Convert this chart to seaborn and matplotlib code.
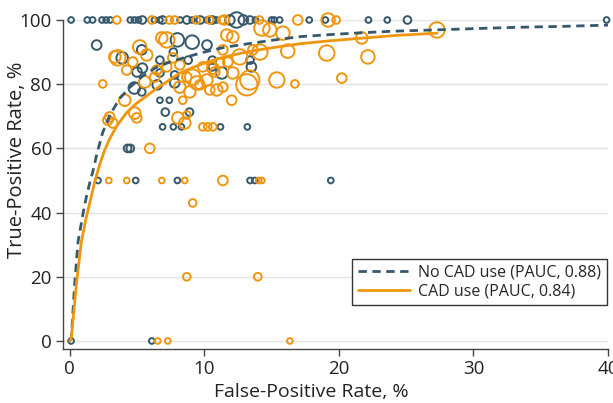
import numpy as np
import pandas as pd
import matplotlib
matplotlib.use("Agg")
import matplotlib.pyplot as plt
import seaborn as sns

NAVY = "#35596b"
ORANGE = "#f0960e"

# study points: false-positive rate, true-positive rate, weight (marker area)
nocad_fpr = [0.1, 1.3, 1.7, 2.4, 2.7, 3.0, 4.5, 4.8, 5.1, 5.4, 6.3, 6.7, 6.9, 8.2, 8.7,
             9.1, 9.7, 10.2, 10.6, 10.9, 11.9, 12.4, 12.9, 13.4, 13.8, 15.0, 15.2, 15.6,
             17.8, 19.0, 22.2, 23.6, 25.1, 39.9,
             2.0, 3.9, 5.35, 6.7, 7.7, 8.8, 8.0, 9.1, 10.2, 5.0, 5.4, 6.7, 7.8, 6.5, 7.8,
             4.8, 5.35, 10.6, 10.6, 11.3, 13.4, 13.5, 6.7, 7.4, 7.1, 8.9,
             6.9, 7.7, 8.3, 11.2, 13.2, 4.3, 4.5,
             2.1, 4.9, 8.0, 13.4, 13.75, 19.4, 0.1, 6.1]
nocad_tpr = [100] * 34 + [
    92.2, 88.2, 90.7, 87.5, 90.0, 87.5, 93.8, 93.1, 92.2, 83.8, 85.0, 83.5, 82.9, 79.8, 80.4,
    78.8, 77.6, 87.5, 85.4, 83.5, 87.5, 85.4, 75.0, 75.0, 71.3, 71.3,
    66.7, 66.7, 66.7, 66.7, 66.7, 60.0, 60.0,
    50, 50, 50, 50, 50, 50, 0, 0]
nocad_w = [9, 9, 9, 9, 9, 9, 9, 9, 9, 16, 9, 9, 16, 9, 16, 9, 16, 9, 16, 9, 25, 64, 25,
           16, 9, 9, 9, 9, 9, 9, 9, 9, 16, 9,
           25, 36, 25, 16, 16, 16, 49, 49, 25, 25, 25, 16, 16, 25, 25,
           36, 16, 16, 16, 36, 16, 25, 9, 9, 16, 16,
           9, 9, 9, 9, 9, 16, 16,
           9, 9, 9, 9, 9, 9, 9, 9]

cad_fpr = [3.5, 6.1, 7.4, 7.8, 9.4, 10.4, 11.3, 11.5, 14.1, 16.95, 19.2, 19.8,
           2.45, 3.57, 3.35, 5.2, 4.24, 7.21, 6.84, 12.12, 11.67, 11.38, 12.64, 11.75,
           13.61, 13.38, 12.12, 9.14, 9.44, 10.19, 8.18, 8.7, 6.47, 6.32, 7.21, 4.09,
           4.83, 4.98, 2.97, 3.2, 8.4, 8.03, 8.7, 10.93, 12.04, 9.89, 10.78, 11.38,
           14.28, 15.84, 14.13, 16.2, 19.1, 22.16, 21.7, 15.39, 13.16, 16.73, 20.22,
           11.15, 10.41, 9.67, 10.63, 8.92, 5.72, 5.58, 4.68, 7.66, 8.18, 14.87, 27.29,
           2.83, 9.89, 10.26, 10.63, 8.55, 5.95,
           2.9, 4.24, 6.84, 8.55, 11.38, 14.05, 14.28, 9.14, 8.7, 13.98, 6.54, 7.29, 16.36]
cad_tpr = [100] * 12 + [
    80.1, 88.2, 88.5, 91.6, 84.4, 93.8, 94.4, 94.7, 95.3, 90.7, 88.5, 86.9,
    90.7, 81.3, 83.5, 82.2, 80.4, 81.3, 79.1, 82.2, 84.4, 82.2, 85.4, 75.0,
    71.0, 69.5, 69.8, 67.9, 75.0, 69.5, 70.4, 78.2, 75.0, 85.4, 83.8, 79.1,
    97.5, 95.9, 90.0, 90.3, 89.7, 88.5, 94.4, 81.3, 79.8, 80.1, 81.9,
    86.6, 78.2, 79.8, 85.0, 77.6, 89.1, 80.7, 86.9, 88.2, 86.0, 96.9, 96.9,
    68.8, 66.7, 66.7, 66.7, 67.9, 60.0,
    50, 50, 50, 50, 50, 50, 50, 43.0, 20, 20, 0, 0, 0]
cad_w = [16, 16, 16, 16, 16, 16, 16, 25, 16, 25, 49, 16,
         16, 64, 36, 49, 25, 64, 36, 36, 36, 25, 64, 25,
         25, 100, 36, 64, 49, 36, 36, 25, 25, 25, 25, 36,
         36, 25, 25, 25, 16, 36, 16, 36, 25, 25, 25, 25,
         64, 49, 64, 49, 64, 49, 36, 64, 121, 16, 25,
         25, 25, 25, 36, 36, 36, 36, 25, 25, 25, 49, 64,
         25, 16, 16, 16, 36, 25,
         9, 9, 9, 9, 25, 9, 9, 16, 16, 16, 9, 9, 9]

# summary ROC curves
nocad_curve_x = [0, 0.12, 0.37, 0.62, 1.0, 1.24, 1.5, 1.73, 2.0, 2.45, 3.0, 3.7, 4.46,
                 5.4, 6.45, 7.5, 8.7, 10.0, 11.5, 13.9, 15.6, 17.1, 19.5, 21.6, 24.0,
                 27.1, 30.0, 33.0, 36.5, 40.0]
nocad_curve_y = [0, 1.2, 18, 31, 40, 45, 49.5, 53, 58, 65, 70.5, 75.5, 79, 82.5, 85.3,
                 87, 88.5, 90, 91.5, 93, 94, 94.8, 95.5, 96, 96.5, 96.9, 97.3, 97.7,
                 98.0, 98.4]
cad_curve_x = [0, 0.12, 0.5, 0.87, 1.2, 1.49, 1.85, 2.23, 2.6, 2.97, 3.5, 4.2, 4.9,
               5.7, 6.4, 7.3, 8.2, 9.2, 10.3, 11.5, 12.7, 13.9, 15.6, 17.1, 19.3,
               21.6, 24.3, 27.3]
cad_curve_y = [0, 1, 18, 31, 38, 43, 49.5, 55, 59.5, 63, 67, 71, 73.8, 76.3, 78.5,
               81, 83.5, 85.3, 87, 88.5, 89.6, 90.6, 91.7, 92.6, 93.5, 94.3, 95.2, 95.9]

pts = pd.DataFrame({
    "fpr": nocad_fpr + cad_fpr,
    "tpr": nocad_tpr + cad_tpr,
    "w": nocad_w + cad_w,
    "group": ["No CAD"] * len(nocad_fpr) + ["CAD"] * len(cad_fpr),
})

sns.set_style("white")
plt.rcParams["font.family"] = ["Open Sans", "DejaVu Sans"]

fig = plt.figure(figsize=(6.13, 4.03), dpi=100)
ax = fig.add_axes([0.1028, 0.134, 0.889, 0.8164])

sns.scatterplot(data=pts, x="fpr", y="tpr", hue="group", size="w",
                palette={"No CAD": NAVY, "CAD": ORANGE},
                sizes=(17, 235), size_norm=(9, 121), legend=False,
                linewidth=1.4, clip_on=False, zorder=3, ax=ax)
coll = ax.collections[-1]
coll.set_edgecolors(coll.get_facecolors())
coll.set_facecolors("none")

sns.lineplot(x=nocad_curve_x, y=nocad_curve_y, color=NAVY, linewidth=2,
             linestyle=(0, (3, 2)), label="No CAD use (PAUC, 0.88)", zorder=4, ax=ax)
sns.lineplot(x=cad_curve_x, y=cad_curve_y, color=ORANGE, linewidth=2,
             label="CAD use (PAUC, 0.84)", zorder=4, ax=ax)

ax.set_xlim(-0.5, 40)
ax.set_ylim(-2.5, 100)
ax.set_xticks([0, 10, 20, 30, 40])
ax.set_yticks([0, 20, 40, 60, 80, 100])
ax.grid(axis="y", color="#e3e3e3", linewidth=1)
ax.set_axisbelow(True)
sns.despine(ax=ax)
for s in ["left", "bottom"]:
    ax.spines[s].set_color("#444444")
    ax.spines[s].set_linewidth(1)
ax.tick_params(axis="both", direction="out", length=5, width=1, color="#444444",
               labelsize=13.5, labelcolor="#222222", left=True, bottom=True, pad=3)
ax.set_xlabel("False-Positive Rate, %", fontsize=14, color="#222222")
ax.set_ylabel("True-Positive Rate, %", fontsize=14.5, color="#222222")
ax.xaxis.set_label_coords(0.455, -0.103)
ax.yaxis.set_label_coords(-0.066, 0.575)

leg = ax.legend(loc="lower right", bbox_to_anchor=(0.998, 0.134), fontsize=11.5,
                frameon=True, fancybox=False, edgecolor="#333333", framealpha=1,
                borderaxespad=0, handlelength=3.3, handletextpad=0.5,
                borderpad=0.35, labelspacing=0.15)
leg.get_frame().set_linewidth(1)

fig.savefig("out.png", dpi=100)
